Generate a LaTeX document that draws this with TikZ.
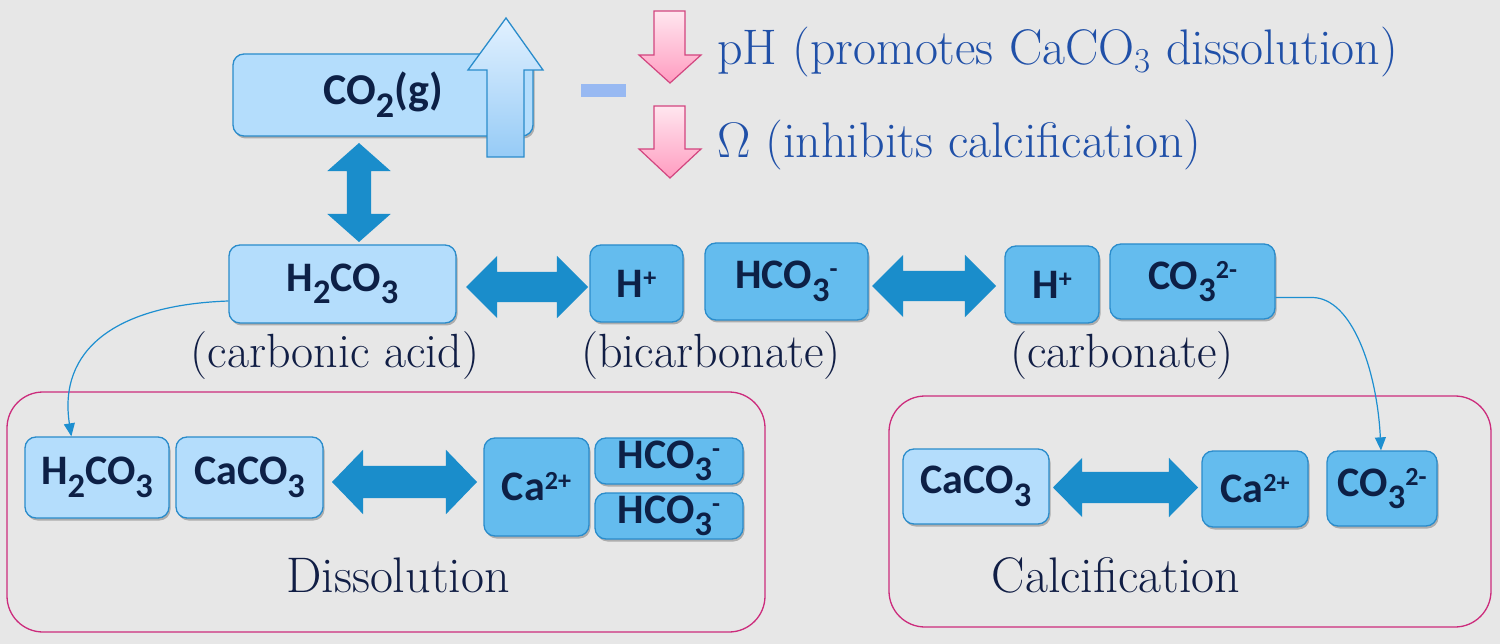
\RequirePackage{fix-cm}
\documentclass[tikz,border=0pt]{standalone}
\usepackage{fontspec}
\newfontfamily\carlito{Carlito}
\usetikzlibrary{shapes.arrows,shadows,calc,arrows.meta}
\definecolor{bgc}{HTML}{E7E7E7}
\definecolor{lfill}{HTML}{B4DDFC}
\definecolor{dfill}{HTML}{64BCEE}
\definecolor{bborder}{HTML}{2A8CCB}
\definecolor{arrowc}{HTML}{1A8DCB}
\definecolor{boxtext}{HTML}{0D2046}
\definecolor{navy}{HTML}{111E45}
\definecolor{bluetext}{HTML}{2050A8}
\definecolor{magframe}{HTML}{CC2C7C}
\definecolor{dashc}{HTML}{98B9F2}
\definecolor{linkc}{HTML}{1D8FD0}
\definecolor{upTop}{HTML}{E2F1FF}
\definecolor{upBot}{HTML}{96CBF6}
\definecolor{pinkTop}{HTML}{FFE6EF}
\definecolor{pinkBot}{HTML}{FF9CC0}
\definecolor{pinkBorder}{HTML}{D2457F}
\newcommand\chdn[1]{\raisebox{-0.3em}{\scalebox{0.82}{#1}}}
\newcommand\chup[1]{\raisebox{0.26em}{\scalebox{0.62}{#1}}}
\newcommand\bxf{\carlito\bfseries\fontsize{42}{46}\selectfont}
\newcommand\lblf{\fontsize{48}{54}\selectfont}
\tikzset{
  lbox/.style={rounded corners=11pt, fill=lfill, draw=bborder, line width=1.3pt,
    font=\bxf, text=boxtext, inner sep=0pt,
    drop shadow={shadow xshift=1.5pt, shadow yshift=-2.5pt, opacity=0.25, fill=black}},
  dbox/.style={lbox, fill=dfill},
  frame/.style={draw=magframe, line width=1.3pt, rounded corners=36pt},
  lbl/.style={font=\lblf, text=navy, inner sep=0pt},
  bluelbl/.style={font=\fontsize{50}{56}\selectfont, text=bluetext, inner sep=0pt, anchor=base west},
  bigarrow/.style={double arrow, fill=arrowc, draw=none, minimum width=1pt, inner xsep=15pt},
  link/.style={draw=linkc, line width=1.2pt, -{Triangle[length=13pt,width=11pt]}}
}
\begin{document}
\begin{tikzpicture}[x=1pt,y=-1pt]
\fill[bgc] (0,0) rectangle (1500,644);
\useasboundingbox (0,0) rectangle (1500,644);

% frames
\draw[frame] (7,392) rectangle (765,632);
\draw[frame] (889,396) rectangle (1491,627);

% top CO2 box and rising arrow
\node[lbox, minimum width=300pt, minimum height=82pt, font=\carlito\bfseries\fontsize{44}{48}\selectfont] (co2) at (383,95) {CO\chdn{2}(g)};
\shade[top color=upTop, bottom color=upBot, draw=bborder, line width=1.3pt]
  (487,157) -- (487,70) -- (468,70) -- (506,18) -- (543,70) -- (524,70) -- (524,157) -- cycle;

% dash and pink arrows
\fill[dashc] (581,84) rectangle (626,97);
\shade[top color=pinkTop, bottom color=pinkBot, draw=pinkBorder, line width=1.2pt]
  (654,11) -- (685,11) -- (685,55) -- (701,55) -- (670,83) -- (639,55) -- (654,55) -- cycle;
\shade[top color=pinkTop, bottom color=pinkBot, draw=pinkBorder, line width=1.2pt]
  (654,106) -- (685,106) -- (685,149) -- (701,149) -- (670,178) -- (639,149) -- (654,149) -- cycle;
\node[bluelbl] (ph) at (717,65) {pH (promotes CaCO\textsubscript{3} dissolution)};
\node[bluelbl] (om) at (717,158) {$\Omega$ (inhibits calcification)};

% middle row
\node[lbox, minimum width=227pt, minimum height=78pt] (h2co3) at (342.5,284) {H\chdn{2}CO\chdn{3}};
\node[dbox, minimum width=93pt, minimum height=77pt] (hp1) at (636.5,283.5) {H\chup{+}};
\node[dbox, minimum width=163pt, minimum height=77pt] (hco3) at (786.5,281.5) {HCO\chdn{3}\chup{-}};
\node[dbox, minimum width=94pt, minimum height=77pt] (hp2) at (1052,284.5) {H\chup{+}};
\node[dbox, minimum width=165pt, minimum height=75pt] (co3) at (1192.5,281.5) {CO\chdn{3}\chup{2-}};

\node[lbl, anchor=base] (lca) at (335,368) {(carbonic acid)};
\node[lbl, anchor=base] (lbi) at (711,368) {(bicarbonate)};
\node[lbl, anchor=base] (lco) at (1122,368) {(carbonate)};

% big arrows
\node[bigarrow, minimum height=99pt, inner ysep=12pt, double arrow head extend=19.5pt, double arrow tip angle=97, rotate=90] (av) at (359,192.5) {};
\node[bigarrow, minimum height=122pt, inner ysep=15pt, double arrow head extend=16pt, double arrow tip angle=90] (a1) at (527,287) {};
\node[bigarrow, minimum height=124pt, inner ysep=15pt, double arrow head extend=16pt, double arrow tip angle=90] (a2) at (934,286) {};

% dissolution
\node[lbox, minimum width=144pt, minimum height=81pt] (bh2co3) at (97,477.5) {H\chdn{2}CO\chdn{3}};
\node[lbox, minimum width=147pt, minimum height=81pt] (bcaco3) at (249.5,477.5) {CaCO\chdn{3}};
\node[bigarrow, minimum height=145pt, inner ysep=16pt, double arrow head extend=16pt, double arrow tip angle=92] (a3) at (404.5,482) {};
\node[dbox, minimum width=105pt, minimum height=98pt] (bca) at (536.5,487) {Ca\chup{2+}};
\node[dbox, minimum width=148pt, minimum height=46pt] (bhco3a) at (669,461) {HCO\chdn{3}\chup{-}};
\node[dbox, minimum width=148pt, minimum height=46pt] (bhco3b) at (669,516) {HCO\chdn{3}\chup{-}};
\node[lbl, anchor=base, font=\fontsize{50}{56}\selectfont] (ldis) at (398,592) {Dissolution};

% calcification
\node[lbox, minimum width=146pt, minimum height=75pt] (rcaco3) at (976,486.5) {CaCO\chdn{3}};
\node[bigarrow, minimum height=145pt, inner ysep=15.5pt, double arrow head extend=14pt, double arrow tip angle=91] (a4) at (1125.5,487.5) {};
\node[dbox, minimum width=106pt, minimum height=76pt] (rca) at (1255,489) {Ca\chup{2+}};
\node[dbox, minimum width=110pt, minimum height=75pt] (rco3) at (1382,488.5) {CO\chdn{3}\chup{2-}};
\node[lbl, anchor=base, font=\fontsize{50}{56}\selectfont] (lcal) at (1116,592) {Calcification};

% connectors
\draw[link] ($(h2co3.west)+(0,17)$) .. controls (115,305) and (58,350) .. ($(bh2co3.north west)+(47,0)$);
\draw[link] ($(co3.east)+(0,16)$) -- (1312,297.5) .. controls (1352,297.5) and (1377,370) .. ($(rco3.north)+(-1,0)$);
\end{tikzpicture}
\end{document}
